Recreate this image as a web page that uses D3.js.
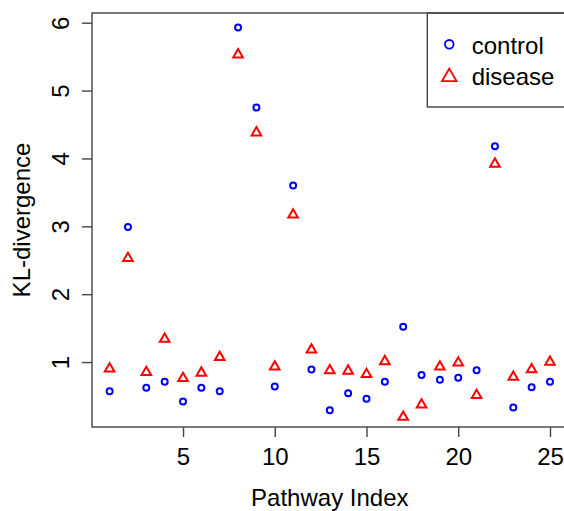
<!DOCTYPE html>
<html>
<head>
<meta charset="utf-8">
<script src="https://cdn.jsdelivr.net/npm/d3@7"></script>
<style>
  body { margin: 0; background: #fff; }
  svg { display: block; font-family: "Liberation Sans", Arial, sans-serif; }
  .box { fill: none; stroke: #444; stroke-width: 1.4; }
  .tick line { stroke: #444; stroke-width: 1.4; }
  .tick text { font-size: 24px; fill: #000; }
</style>
</head>
<body>
<svg width="564" height="511"></svg>
<script>
// pathway index 1..25
const pathways = d3.range(1, 26);
const control = [0.57, 2.99, 0.62, 0.71, 0.42, 0.62, 0.57, 5.93, 4.75, 0.64, 3.60, 0.89, 0.29,
                 0.54, 0.46, 0.71, 1.52, 0.81, 0.74, 0.77, 0.88, 4.18, 0.33, 0.63, 0.71];
const disease = [0.90, 2.53, 0.85, 1.34, 0.76, 0.84, 1.07, 5.53, 4.38, 0.93, 3.17, 1.18, 0.875,
                 0.87, 0.82, 1.01, 0.19, 0.37, 0.93, 0.99, 0.51, 3.92, 0.78, 0.89, 1.00];
const xTicks = [5, 10, 15, 20, 25];
const yTicks = [1, 2, 3, 4, 5, 6];

const LEFT = 92, RIGHT = 567.6, TOP = 13, BOTTOM = 427;

const x = d3.scaleLinear().domain([0.04, 25.96]).range([LEFT, RIGHT]);
const y = d3.scaleLinear().domain([0.043, 6.143]).range([BOTTOM, TOP]);

const svg = d3.select('svg');

// y axis, labels parallel to the axis
const gy = svg.append('g')
  .attr('transform', `translate(${LEFT},0)`)
  .call(d3.axisLeft(y).tickValues(yTicks).tickSize(10).tickFormat(d3.format('d')));
gy.select('.domain').remove();
gy.selectAll('.tick text')
  .attr('transform', 'rotate(-90)')
  .attr('x', 0)
  .attr('y', -23)
  .attr('dy', 0)
  .attr('text-anchor', 'middle');

const gx = svg.append('g')
  .attr('transform', `translate(0,${BOTTOM})`)
  .call(d3.axisBottom(x).tickValues(xTicks).tickSize(10).tickFormat(d3.format('d')));
gx.select('.domain').remove();
gx.selectAll('.tick text').attr('y', 38).attr('dy', 0);

// plot box
svg.append('rect').classed('box', true)
  .attr('x', LEFT).attr('y', TOP)
  .attr('width', RIGHT - LEFT).attr('height', BOTTOM - TOP);

// axis titles
svg.append('text')
  .attr('x', (LEFT + RIGHT) / 2).attr('y', 506)
  .attr('text-anchor', 'middle').attr('font-size', 24)
  .text('Pathway Index');
svg.append('text')
  .attr('transform', `translate(30,${(TOP + BOTTOM) / 2}) rotate(-90)`)
  .attr('text-anchor', 'middle').attr('font-size', 24)
  .text('KL-divergence');

const tri = d3.symbol().type(d3.symbolTriangle);

svg.append('g')
  .selectAll('circle')
  .data(pathways)
  .enter()
  .append('circle')
  .attr('cx', d => x(d))
  .attr('cy', (d, i) => y(control[i]))
  .attr('r', 3)
  .attr('fill', 'none')
  .attr('stroke', '#0000ff')
  .attr('stroke-width', 2);

svg.append('g')
  .selectAll('path')
  .data(pathways)
  .enter()
  .append('path')
  .attr('d', tri.size(40)())
  .attr('transform', (d, i) => `translate(${x(d)},${y(disease[i])})`)
  .attr('fill', 'none')
  .attr('stroke', '#ff0000')
  .attr('stroke-width', 2);

// legend
const legend = svg.append('g');
legend.append('rect').classed('box', true)
  .attr('x', 427.3).attr('y', TOP)
  .attr('width', 160).attr('height', 94)
  .attr('fill', '#fff');
legend.append('circle')
  .attr('cx', 449.3).attr('cy', 44.3).attr('r', 4.3)
  .attr('fill', 'none').attr('stroke', '#0000ff').attr('stroke-width', 1.8);
legend.append('path')
  .attr('d', d3.symbol().type(d3.symbolTriangle).size(92)())
  .attr('transform', 'translate(449.3,77)')
  .attr('fill', 'none').attr('stroke', '#ff0000').attr('stroke-width', 1.8);
legend.append('text').attr('x', 471.7).attr('y', 54).attr('font-size', 24).text('control');
legend.append('text').attr('x', 471.7).attr('y', 85).attr('font-size', 24).text('disease');
</script>
</body>
</html>
